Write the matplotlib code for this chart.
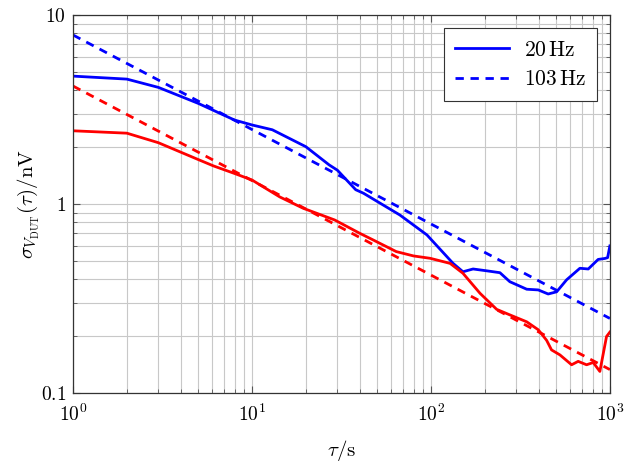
import numpy as np
import matplotlib.pyplot as plt
from matplotlib.ticker import FixedLocator, FixedFormatter, LogLocator, NullFormatter

# Allan deviation, 20 Hz (blue) and 103 Hz (red)
tau_blue = [1, 2, 3, 5, 8, 10, 13, 20, 27, 30, 38, 42, 67, 95, 133, 151, 172,
            205, 243, 276, 343, 398, 452, 504, 573, 680, 757, 860, 938, 971, 1000]
sig_blue = [4.75, 4.58, 4.14, 3.41, 2.78, 2.62, 2.47, 2.01, 1.61, 1.51, 1.19,
            1.14, 0.875, 0.686, 0.485, 0.438, 0.453, 0.443, 0.433, 0.388, 0.354,
            0.351, 0.334, 0.343, 0.397, 0.457, 0.453, 0.509, 0.515, 0.52, 0.60]

tau_red = [1, 2, 3, 5, 6.1, 8, 10, 14.3, 19.3, 29, 40, 47.6, 64, 80, 99, 128,
           151, 188, 233, 276, 343, 398, 443, 472, 526, 611, 665, 741, 807, 879,
           958, 1000]
sig_red = [2.44, 2.37, 2.11, 1.72, 1.59, 1.45, 1.34, 1.09, 0.95, 0.823, 0.70,
           0.645, 0.56, 0.531, 0.516, 0.485, 0.43, 0.337, 0.277, 0.259, 0.238,
           0.216, 0.19, 0.169, 0.159, 0.141, 0.147, 0.141, 0.145, 0.130, 0.199,
           0.21]

# tau^-1/2 guide lines
tau_fit = [1, 1000]
fit_blue = [7.84, 0.248]
fit_red = [4.21, 0.133]

plt.rcParams.update({"font.family": "serif", "mathtext.fontset": "cm",
                     "font.size": 14, "axes.unicode_minus": False})

fig = plt.figure(figsize=(6.32, 4.62), dpi=100)
ax = fig.add_axes([0.1155, 0.1494, 0.8495, 0.8181])

ax.plot(tau_blue, sig_blue, "-", color="#0000ff", lw=2.0, label=r"$20\,\mathrm{Hz}$")
ax.plot(tau_fit, fit_blue, "--", color="#0000ff", lw=2.0, dashes=(3.0, 2.4),
        label=r"$103\,\mathrm{Hz}$")
ax.plot(tau_red, sig_red, "-", color="#ff0000", lw=2.0)
ax.plot(tau_fit, fit_red, "--", color="#ff0000", lw=2.0, dashes=(3.0, 2.4))

ax.set_xscale("log")
ax.set_yscale("log")
ax.set_xlim(1, 1000)
ax.set_ylim(0.1, 10)

ax.xaxis.set_major_locator(FixedLocator([1, 10, 100, 1000]))
ax.xaxis.set_major_formatter(FixedFormatter([r"$10^{0}$", r"$10^{1}$", r"$10^{2}$", r"$10^{3}$"]))
ax.yaxis.set_major_locator(FixedLocator([0.1, 1, 10]))
ax.yaxis.set_major_formatter(FixedFormatter([r"$0.1$", r"$1$", r"$10$"]))
ax.xaxis.set_minor_locator(LogLocator(base=10, subs=np.arange(2, 10), numticks=20))
ax.yaxis.set_minor_locator(LogLocator(base=10, subs=np.arange(2, 10), numticks=20))
ax.xaxis.set_minor_formatter(NullFormatter())
ax.yaxis.set_minor_formatter(NullFormatter())

ax.grid(True, which="both", color="#c8c8c8", lw=0.8)
ax.set_axisbelow(True)
ax.tick_params(which="both", direction="in", top=True, right=True, color="#555555")
ax.tick_params(which="major", length=5, width=0.8, labelsize=14, pad=5)
ax.tick_params(axis="x", which="major", pad=8)
ax.tick_params(which="minor", length=3, width=0.6)
for s in ax.spines.values():
    s.set_color("#333333")
    s.set_linewidth(0.9)

ax.set_xlabel(r"$\tau/\mathrm{s}$", fontsize=15, labelpad=9)
ax.set_ylabel(r"$\sigma_{V_{\mathrm{DUT}}}(\tau)/\mathrm{nV}$", fontsize=15, labelpad=-1)

leg = ax.legend(loc="upper right", fontsize=15.5, fancybox=False, framealpha=1,
                edgecolor="#333333", handlelength=2.5, borderpad=0.5,
                labelspacing=0.35, handletextpad=0.7, borderaxespad=0.6)
leg.get_frame().set_linewidth(0.8)

fig.savefig("out.png", dpi=100)
